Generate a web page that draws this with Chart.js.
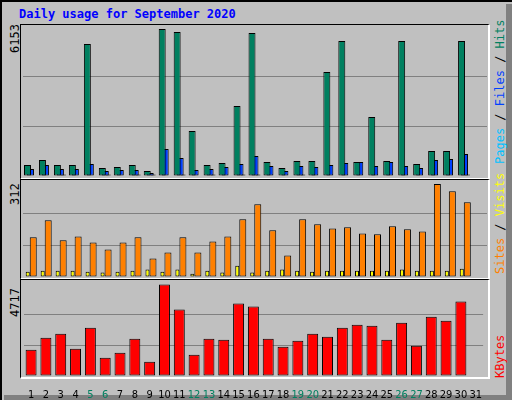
<!DOCTYPE html>
<html><head><meta charset="utf-8">
<script src="https://cdn.jsdelivr.net/npm/chart.js@4"></script>
<style>
html,body{margin:0;padding:0;background:#fff;}
#frame{position:absolute;left:0;top:0;width:512px;height:400px;background:#c0c0c0;box-sizing:border-box;border-top:2px solid #000;border-left:2px solid #000;}
#shadowR{position:absolute;left:506px;top:4px;width:6px;height:396px;background:#808080;}
#shadowB{position:absolute;left:4px;top:395px;width:508px;height:5px;background:#808080;}
#inner{position:absolute;left:2px;top:2px;width:504px;height:393px;border-right:1px solid #fff;border-bottom:1px solid #fff;box-sizing:border-box;}
.title{position:absolute;left:19px;top:7px;font:bold 12px "DejaVu Sans Mono",monospace;color:#0000ff;}
.panel{position:absolute;left:20px;width:470px;box-sizing:border-box;border-top:1px solid #000;border-left:1px solid #000;border-right:2px solid #fff;border-bottom:2px solid #fff;}
canvas{position:absolute;}
.vl{position:absolute;font:12px "DejaVu Sans Mono",monospace;transform-origin:0 0;transform:rotate(-90deg);white-space:nowrap;}
</style></head><body>
<div id="frame"><div id="inner"></div></div>
<div id="shadowR"></div><div id="shadowB"></div>
<div class="title">Daily usage for September 2020</div>
<div class="panel" style="top:24px;height:156px"></div>
<div class="panel" style="top:179px;height:101px"></div>
<div class="panel" style="top:279px;height:100px"></div>
<div class="vl" style="left:8px;top:53px;color:#000">6153</div>
<div class="vl" style="left:8px;top:205px;color:#000">312</div>
<div class="vl" style="left:8px;top:317px;color:#000">4717</div>
<div class="vl" style="left:493px;top:164px"><span style="color:#00c0ff">Pages</span> / <span style="color:#0040ff">Files</span> / <span style="color:#008060">Hits</span></div>
<div class="vl" style="left:493px;top:274px"><span style="color:#ff8000">Sites</span> / <span style="color:#ffff00">Visits</span></div>
<div class="vl" style="left:493px;top:378px;color:#ff0000">KBytes</div>
<canvas id="c1" style="left:23px;top:26px"></canvas>
<canvas id="c2" style="left:23px;top:181px"></canvas>
<canvas id="c3" style="left:23px;top:283px"></canvas>
<script>
const days = Array.from({length:31},(_,i)=>String(i+1));
const weekend = ["5","6","12","13","19","20","26","27"];
const hits  = [460,670,460,460,5525,335,377,460,210,6153,6030,1880,460,545,2930,5985,585,335,630,630,4355,5650,585,2470,630,5650,500,1045,1045,5650,0];
const files = [290,460,290,290,500,210,250,250,125,1130,750,250,290,377,500,840,420,210,420,377,460,545,585,420,585,420,335,670,710,920,0];
const pages = [20,20,60,20,20,60,20,60,60,20,60,20,60,20,60,60,20,20,60,20,20,20,20,20,20,20,20,20,20,60,0];
const sites = [133,190,123,136,116,92,116,133,62,82,133,82,119,136,194,244,157,72,194,177,163,167,146,143,170,160,153,312,288,251,0];
const visits= [18,21,21,21,18,15,18,21,25,18,25,11,21,15,38,15,21,25,21,18,21,21,21,21,21,25,21,21,21,28,0];
const kbytes= [1360,1980,2186,1412,2496,947,1205,1928,740,4717,3426,1102,1928,1877,3736,3581,1928,1515,1825,2186,2031,2496,2651,2600,1877,2754,1567,3064,2858,3839,0];

function mk(id,w,h,datasets,max,cp,showX){
  const c=document.getElementById(id); c.width=w; c.height=h; c.style.width=w+'px'; c.style.height=h+'px';
  new Chart(c,{type:'bar',data:{labels:days,datasets},
    options:{responsive:false,maintainAspectRatio:false,animation:false,devicePixelRatio:1,
      layout:{padding:0},
      plugins:{legend:{display:false},tooltip:{enabled:false}},
      datasets:{bar:{categoryPercentage:cp,borderColor:'#000',borderWidth:1,borderSkipped:false}},
      scales:{
        x:{display:showX,grid:{display:false},border:{display:false},
           ticks:{padding:5,maxRotation:0,autoSkip:false,font:{family:'DejaVu Sans Condensed',size:11},
             color:(ctx)=>weekend.includes(days[ctx.index])?'#008060':'#000'},
           afterFit:(s)=>{s.height=showX?22:0;}},
        y:{min:0,max:max,afterFit:(s)=>{s.width=0;},
           ticks:{display:false,stepSize:max/3},border:{display:false},
           grid:{color:(ctx)=>(ctx.index===1||ctx.index===2)?'#808080':'rgba(0,0,0,0)',lineWidth:1,drawTicks:false}}
      }}});
}
mk('c1',464,150,[
  {data:hits,backgroundColor:'#008060',barPercentage:2.33},
  {data:files,backgroundColor:'#0040ff',barPercentage:2.33},
  {data:pages,backgroundColor:'#00c0ff',barPercentage:1.67}
],6279,0.6,false);
mk('c2',464,96,[
  {data:visits,backgroundColor:'#ffff00',barPercentage:0.73},
  {data:sites,backgroundColor:'#ff8000',barPercentage:1.27}
],322,0.737,false);
mk('c3',464,115,[
  {data:kbytes,backgroundColor:'#ff0000',barPercentage:0.74}
],4800,1,true);
</script>
</body></html>
